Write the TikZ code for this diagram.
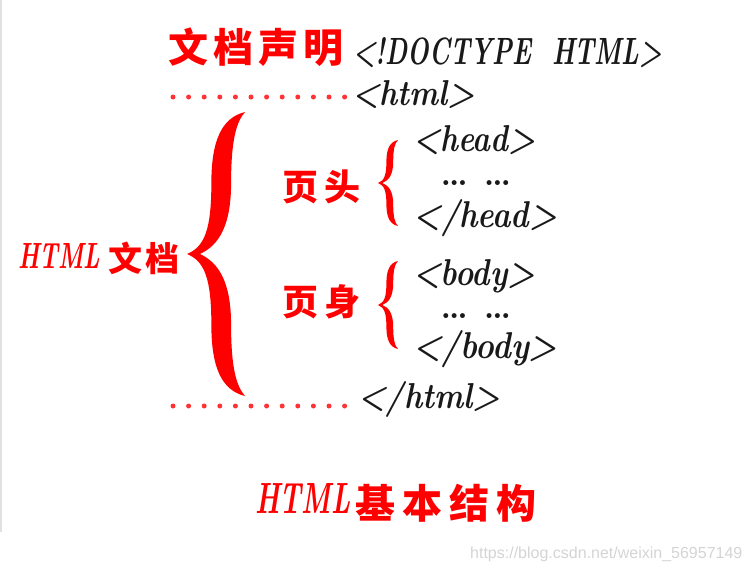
\documentclass[tikz,border=0pt]{standalone}
\usepackage{fontspec}
\usepackage{graphicx}
\newfontfamily\cjk{Noto Sans CJK SC}
\newfontfamily\wmfont{Liberation Sans}
\definecolor{bred}{RGB}{255,0,0}
\definecolor{wmgray}{RGB}{212,212,212}
\definecolor{tagblack}{RGB}{25,25,25}
\tikzset{
  tag/.style={anchor=base west, inner sep=0pt, text=tagblack},
  dotstext/.style={inner sep=0pt, text=tagblack, font=\bfseries\fontsize{34}{34}\selectfont},
  redcjk/.style={anchor=west, inner sep=0pt, text=bred},
  redlat/.style={anchor=base west, inner sep=0pt, text=bred},
  dotline/.style={draw=bred!80, line width=5pt, line cap=round, dash pattern=on 0pt off 15.6pt},
  bracefill/.style={fill=bred},
}
\newcommand\tagtxt[3]{\resizebox{#1pt}{#2pt}{\bfseries\itshape #3}}
\newcommand\redhtml[2]{\resizebox{#1pt}{#2pt}{\bfseries\itshape HTML}}
\newcommand\cjksize[1]{\cjk\bfseries\fontsize{#1}{#1}\selectfont}
\newcommand\curlybrace[4]{%
  \begin{scope}[shift={(#1,#2)},xscale=#3,yscale=#4]
    \fill[bracefill] (1,-1) .. controls (0.6,-0.96) and (0.42,-0.8) .. (0.42,-0.5)
      .. controls (0.42,-0.17) and (0.3,-0.05) .. (0,0)
      .. controls (0.3,0.05) and (0.42,0.17) .. (0.42,0.5)
      .. controls (0.42,0.8) and (0.6,0.96) .. (1,1)
      .. controls (0.85,0.93) and (0.76,0.8) .. (0.76,0.5)
      .. controls (0.76,0.2) and (0.55,0.06) .. (0.22,0)
      .. controls (0.55,-0.06) and (0.76,-0.2) .. (0.76,-0.5)
      .. controls (0.76,-0.8) and (0.85,-0.93) .. (1,-1) -- cycle;
  \end{scope}}
\begin{document}
\begin{tikzpicture}[x=1pt,y=-1pt]
\useasboundingbox (0,0) rectangle (750,574);
\draw[wmgray!70, line width=1.5pt] (0.75,0) -- (0.75,532);

% header
\node[redcjk] (decl) at (168,47) {\cjksize{40}文\hspace{5pt}档\hspace{5pt}声\hspace{5pt}明};
\node[tag] (doctype) at (353,64) {\tagtxt{309}{27}{<!DOCTYPE\ \ HTML>}};

% html open / close with dotted leaders
\node[tag] (htmlopen) at (352,105) {\tagtxt{123}{25}{<html>}};
\coordinate (l1s) at (173,97);
\coordinate (l1e) at (347,97);
\draw[dotline] (l1s) -- (l1e);

\node[tag] (htmlclose) at (358,408) {\tagtxt{142}{27}{</html>}};
\coordinate (l2s) at (173,406);
\coordinate (l2e) at (347,406);
\draw[dotline] (l2s) -- (l2e);

% HTML document label and big brace
\node[redlat] (doclat) at (18,268) {\redhtml{82}{25}};
\node[redcjk] (doccjk) at (108,258) {\cjksize{34}文\hspace{3pt}档};
\curlybrace{187}{254}{58}{142}

% head part
\node[redcjk] (headlbl) at (282,187) {\cjksize{36}页\hspace{6pt}头};
\curlybrace{378}{183}{20}{43}
\node[tag] (headopen) at (413,151) {\tagtxt{122}{26}{<head>}};
\node[dotstext, anchor=base] (headdots) at (476,185) {…\hspace{16pt}…};
\node[tag] (headclose) at (413,227) {\tagtxt{144}{28}{</head>}};

% body part
\node[redcjk] (bodylbl) at (282,302) {\cjksize{36}页\hspace{6pt}身};
\curlybrace{378}{305}{20}{44}
\node[tag] (bodyopen) at (413,285) {\tagtxt{122}{26}{<body>}};
\node[dotstext, anchor=base] (bodydots) at (476,318) {…\hspace{16pt}…};
\node[tag] (bodyclose) at (413,358) {\tagtxt{144}{28}{</body>}};

% title
\node[redlat] (titlelat) at (255,513) {\redhtml{95}{30}};
\node[redcjk] (titlecjk) at (355,503) {\cjksize{40}基\hspace{7pt}本\hspace{7pt}结\hspace{7pt}构};

% watermark
\node[anchor=base west, inner sep=0pt, text=wmgray, font=\wmfont\fontsize{16}{16}\selectfont] (wm) at (470,558) {https://blog.csdn.net/weixin\_56957149};
\end{tikzpicture}
\end{document}
